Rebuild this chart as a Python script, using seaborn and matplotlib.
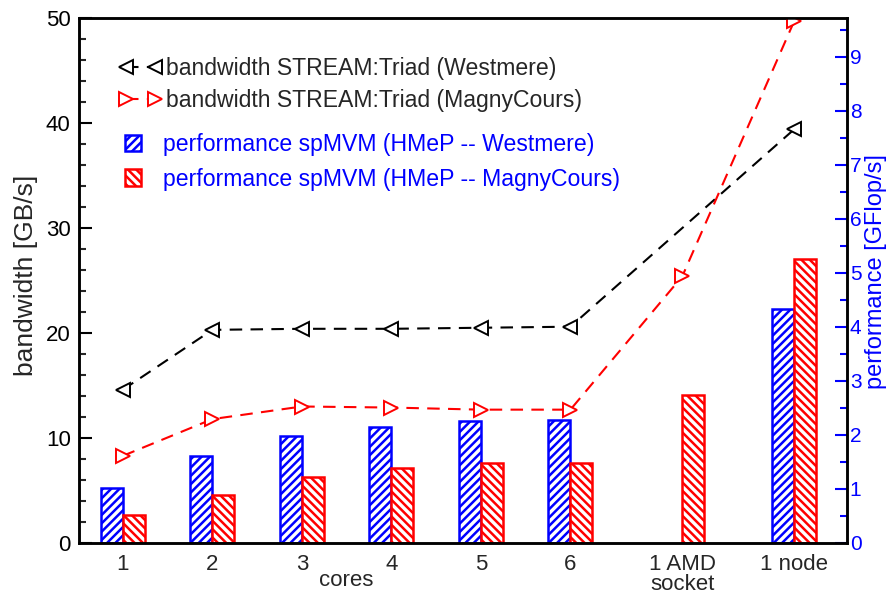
import numpy as np
import pandas as pd
import matplotlib
matplotlib.use("Agg")
import matplotlib.pyplot as plt
import matplotlib.transforms as mtransforms
from matplotlib.lines import Line2D
from matplotlib.patches import Patch
from matplotlib.ticker import MultipleLocator
import seaborn as sns

# ---------------- data ----------------
categories = ["1", "2", "3", "4", "5", "6", "1 AMD\nsocket", "1 node"]
x_pos = [1, 2, 3, 4, 5, 6, 7.25, 8.5]
bw_westmere = [14.6, 20.3, 20.4, 20.4, 20.5, 20.6, np.nan, 39.4]
bw_magny = [8.3, 11.8, 13.0, 12.9, 12.7, 12.7, 25.4, 49.7]
perf_westmere = [1.02, 1.61, 1.98, 2.14, 2.25, 2.27, np.nan, 4.33]
perf_magny = [0.51, 0.89, 1.22, 1.39, 1.49, 1.49, 2.74, 5.26]

lab_bw_w = "bandwidth STREAM:Triad (Westmere)"
lab_bw_m = "bandwidth STREAM:Triad (MagnyCours)"
lab_pf_w = "performance spMVM (HMeP -- Westmere)"
lab_pf_m = "performance spMVM (HMeP -- MagnyCours)"

BLUE = "#0000ff"
RED = "#ff0000"

sns.set_style("ticks")
plt.rcParams["font.family"] = ["Liberation Sans", "DejaVu Sans"]
plt.rcParams["hatch.linewidth"] = 1.8

fig = plt.figure(figsize=(8.88, 5.94), dpi=100)
ax = fig.add_axes([79 / 888, 1 - 543 / 594, (847 - 79) / 888, (543 - 18) / 594])
ax2 = ax.twinx()

# ---------------- bars (right axis) ----------------
bars = pd.DataFrame({
    "x": x_pos * 2,
    "value": perf_westmere + perf_magny,
    "system": [lab_pf_w] * len(x_pos) + [lab_pf_m] * len(x_pos),
}).dropna()
sns.barplot(data=bars, x="x", y="value", hue="system", hue_order=[lab_pf_w, lab_pf_m],
            native_scale=True, width=0.49, gap=0, palette=[BLUE, RED],
            legend=False, ax=ax2, errorbar=None)
for cont, col, hatch in zip(ax2.containers, [BLUE, RED], ["////", "\\\\\\\\"]):
    for p in cont.patches:
        p.set_facecolor("white")
        p.set_edgecolor(col)
        p.set_hatch(hatch)
        p.set_linewidth(1.8)

# ---------------- lines (left axis) ----------------
lines = pd.DataFrame({"x": x_pos, "w": bw_westmere, "m": bw_magny})
lw = lines.dropna(subset=["w"])
sns.lineplot(x=lw["x"], y=lw["w"], ax=ax, color="black", marker="<", markersize=10,
             markerfacecolor="white", markeredgecolor="black", markeredgewidth=1.4,
             linestyle=(0, (6, 4)), linewidth=1.5)
sns.lineplot(x=lines["x"], y=lines["m"], ax=ax, color=RED, marker=">", markersize=10,
             markerfacecolor="white", markeredgecolor=RED, markeredgewidth=1.4,
             linestyle=(0, (6, 4)), linewidth=1.5)
ax.set_zorder(ax2.get_zorder() + 1)
ax.patch.set_visible(False)

# ---------------- axes ----------------
ax.set_xlim(0.51, 9.09)
ax.set_ylim(0, 50)
ax2.set_ylim(0, 9.72)
ax.set_xticks(x_pos)
ax.set_xticklabels(categories, fontsize=16, linespacing=0.95)
ax.tick_params(axis="x", length=0, pad=8)
ax2.tick_params(axis="x", length=0)
ax.yaxis.set_major_locator(MultipleLocator(10))
ax.yaxis.set_minor_locator(MultipleLocator(2))
ax.tick_params(axis="y", which="major", direction="in", length=9, width=1.5,
               labelsize=16, pad=6, colors="black")
ax.tick_params(axis="y", which="minor", direction="in", length=5, width=1.5)
ax2.yaxis.set_major_locator(MultipleLocator(1))
ax2.yaxis.set_minor_locator(MultipleLocator(0.5))
ax2.tick_params(axis="y", which="major", direction="in", length=9, width=1.5,
                labelsize=15, pad=2, colors=BLUE)
ax2.tick_params(axis="y", which="minor", direction="in", length=5, width=1.5, colors=BLUE)
for a in (ax, ax2):
    for s in a.spines.values():
        s.set_linewidth(1.8)
        s.set_color("black")
        s.set_visible(True)

ax.set_xlabel("")
ax2.set_xlabel("")
ax.set_ylabel("bandwidth [GB/s]", fontsize=19)
ax.yaxis.set_label_coords((38 - 79) / 768, (543 - 275) / 525)
ax2.set_ylabel("performance [GFlop/s]", fontsize=17, color=BLUE)
ax2.yaxis.set_label_coords((865 - 79) / 768, (543 - 272) / 525)

trans = mtransforms.blended_transform_factory(ax.transData, fig.transFigure)
ax.text(3.5, 1 - 580 / 594, "cores", transform=trans, ha="center", va="center", fontsize=16)

# ---------------- legends ----------------
h1 = Line2D([], [], color="black", marker="<", markersize=10, markerfacecolor="white",
            markeredgewidth=1.4, linestyle=(0, (6, 4)), linewidth=1.5)
h2 = Line2D([], [], color=RED, marker=">", markersize=10, markerfacecolor="white",
            markeredgewidth=1.4, linestyle=(0, (6, 4)), linewidth=1.5)
leg1 = ax2.legend([h1, h2], [lab_bw_w, lab_bw_m], loc="upper left",
                  bbox_to_anchor=(119 / 888, 1 - 57 / 594), bbox_transform=fig.transFigure,
                  frameon=False, fontsize=16.6, handlelength=1.85, handletextpad=0.2,
                  labelspacing=0.4, numpoints=2, borderpad=0, borderaxespad=0)
ax2.add_artist(leg1)
p1 = Patch(facecolor="white", edgecolor=BLUE, hatch="////", linewidth=1.8)
p2 = Patch(facecolor="white", edgecolor=RED, hatch="\\\\\\\\", linewidth=1.8)
leg2 = ax2.legend([p1, p2], [lab_pf_w, lab_pf_m], loc="upper left",
                  bbox_to_anchor=(125 / 888, 1 - 133 / 594), bbox_transform=fig.transFigure,
                  frameon=False, fontsize=16.6, handlelength=0.7, handleheight=0.7,
                  handletextpad=0.95, labelspacing=0.5, borderpad=0, borderaxespad=0)
for t in leg2.get_texts():
    t.set_color(BLUE)

fig.savefig("out.png", dpi=100)
